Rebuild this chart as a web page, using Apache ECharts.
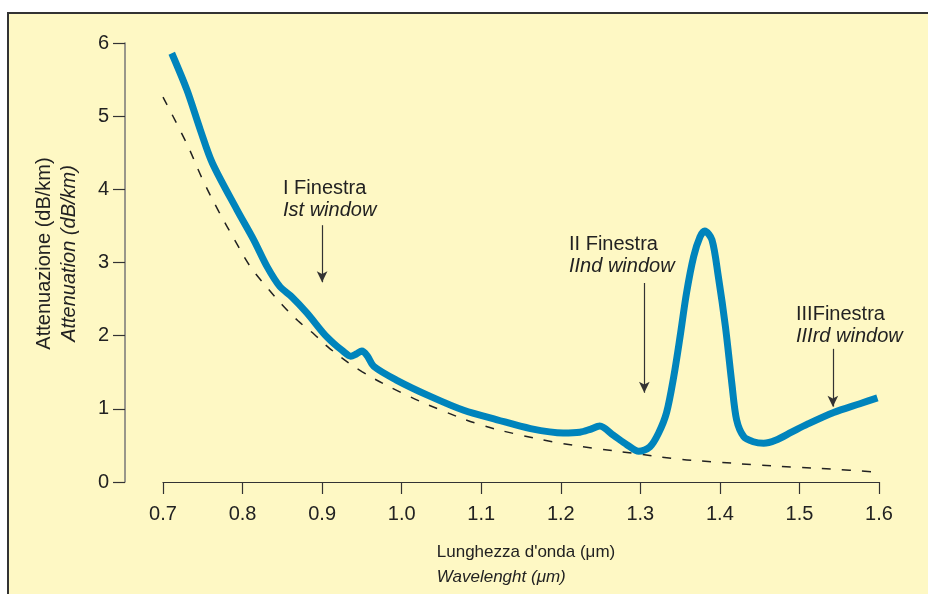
<!DOCTYPE html>
<html>
<head>
<meta charset="utf-8">
<script src="https://cdn.jsdelivr.net/npm/echarts@6/dist/echarts.min.js"></script>
<style>
  html, body { margin: 0; padding: 0; background: #fff; }
  #chart { width: 928px; height: 594px; }
</style>
</head>
<body>
<div id="chart"></div>
<script>
// measured attenuation curve (blue)
var attX = [0.711, 0.730, 0.747, 0.762, 0.793, 0.814, 0.831, 0.847, 0.862, 0.881, 0.902,
            0.914, 0.925, 0.936, 0.943, 0.950, 0.957, 0.965, 0.994, 1.036, 1.078, 1.120, 1.162,
            1.203, 1.224, 1.237, 1.249, 1.266, 1.283, 1.298, 1.312, 1.323, 1.333, 1.342, 1.350,
            1.358, 1.367, 1.375, 1.381, 1.390, 1.398, 1.407, 1.415, 1.421, 1.430, 1.442, 1.455,
            1.470, 1.490, 1.510, 1.543, 1.576, 1.598];
var attY = [5.86, 5.36, 4.81, 4.36, 3.72, 3.31, 2.94, 2.67, 2.53, 2.31, 2.03,
            1.90, 1.80, 1.72, 1.75, 1.79, 1.72, 1.58, 1.39, 1.17, 0.98, 0.85, 0.73,
            0.67, 0.68, 0.72, 0.765, 0.64, 0.51, 0.42, 0.48, 0.67, 0.95, 1.44, 1.99,
            2.58, 3.08, 3.35, 3.43, 3.31, 2.81, 2.12, 1.35, 0.85, 0.62, 0.55, 0.53,
            0.57, 0.68, 0.79, 0.95, 1.07, 1.15];

// theoretical limit (dashed)
var limX = [0.70, 0.73, 0.75, 0.77, 0.79, 0.81, 0.83, 0.85, 0.87, 0.89, 0.91, 0.95, 1.00,
            1.05, 1.10, 1.15, 1.20, 1.25, 1.30, 1.35, 1.40, 1.45, 1.50, 1.55, 1.59];
var limY = [5.26, 4.62, 4.13, 3.70, 3.31, 2.94, 2.67, 2.42, 2.20, 2.02, 1.82, 1.51, 1.22,
            0.98, 0.78, 0.64, 0.53, 0.45, 0.38, 0.31, 0.27, 0.23, 0.20, 0.17, 0.14];

// window arrows: x, top, tip
var arrowX = [0.9, 1.305, 1.542];
var arrowTop = [3.51, 2.72, 1.82];
var arrowTip = [2.73, 1.22, 1.03];
var windowIt = ['I Finestra', 'II Finestra', 'IIIFinestra'];
var windowEn = ['Ist window', 'IInd window', 'IIIrd window'];

var xTicks = { min: 0.7, max: 1.6, step: 0.1 };
var yTicks = { min: 0, max: 6, step: 1 };

var chart = echarts.init(document.getElementById('chart'));

function pairs(xs, ys) {
    return xs.map(function (x, i) { return [x, ys[i]]; });
}

var arrowLines = arrowX.map(function (x, i) {
    return [{ coord: [x, arrowTop[i]] }, { coord: [x, arrowTip[i]] }];
});

var labelPos = [[283, 178], [569, 234], [796, 304]];
var texts = labelPos.map(function (p, i) {
    return {
        type: 'text', left: p[0], top: p[1],
        style: {
            text: '{a|' + windowIt[i] + '}\n{b|' + windowEn[i] + '}',
            rich: {
                a: { fontSize: 20, fontFamily: 'Liberation Sans', fill: '#222', lineHeight: 22 },
                b: { fontSize: 20, fontFamily: 'Liberation Sans', fontStyle: 'italic', fill: '#222', lineHeight: 22 }
            }
        }
    };
});

var option = {
    backgroundColor: '#fff',
    animation: false,
    graphic: [{
        type: 'rect', z: -10, silent: true,
        shape: { x: 8, y: 13, width: 940, height: 600 },
        style: { fill: '#fef8c4', stroke: '#333', lineWidth: 2 }
    }].concat(texts),
    grid: { left: 163, right: 49, top: 43, bottom: 112 },
    xAxis: {
        type: 'value',
        min: xTicks.min, max: xTicks.max, interval: xTicks.step,
        axisLine: { show: true, lineStyle: { color: '#333', width: 1.2 } },
        axisTick: { show: true, length: 12, lineStyle: { color: '#333', width: 1.2 } },
        axisLabel: {
            margin: 22, fontSize: 20, color: '#222', fontFamily: 'Liberation Sans',
            formatter: function (v) { return v.toFixed(1); }
        },
        splitLine: { show: false },
        name: '{a|Lunghezza d\'onda (\u03bcm)}\n{b|Wavelenght (\u03bcm)}',
        nameLocation: 'middle',
        nameGap: 58,
        nameTextStyle: {
            padding: [0, 0, 0, 10],
            rich: {
                a: { fontSize: 17, fontFamily: 'Liberation Sans', color: '#222', align: 'left', lineHeight: 25 },
                b: { fontSize: 17, fontFamily: 'Liberation Sans', fontStyle: 'italic', color: '#222', align: 'left', lineHeight: 25 }
            }
        }
    },
    yAxis: {
        type: 'value',
        min: yTicks.min, max: yTicks.max, interval: yTicks.step,
        offset: 38,
        axisLine: { show: true, lineStyle: { color: '#777', width: 1.5 } },
        axisTick: { show: true, length: 12, lineStyle: { color: '#333', width: 1.2 } },
        axisLabel: { margin: 16, fontSize: 20, color: '#222', fontFamily: 'Liberation Sans' },
        splitLine: { show: false },
        name: '{a|Attenuazione (dB/km)}\n{b|Attenuation (dB/km)}',
        nameLocation: 'middle',
        nameRotate: 90,
        nameGap: 43,
        nameTextStyle: {
            padding: [0, 0, 0, 18],
            rich: {
                a: { fontSize: 20, fontFamily: 'Liberation Sans', color: '#222', lineHeight: 25 },
                b: { fontSize: 20, fontFamily: 'Liberation Sans', fontStyle: 'italic', color: '#222', lineHeight: 25 }
            }
        }
    },
    series: [{
        name: 'limit',
        type: 'line',
        data: pairs(limX, limY),
        smooth: 0.4,
        symbol: 'none',
        lineStyle: { color: '#222', width: 1.5, type: [9, 11] },
        z: 2
    }, {
        name: 'attenuation',
        type: 'line',
        data: pairs(attX, attY),
        smooth: 0.3,
        symbol: 'none',
        lineStyle: { color: '#0084bc', width: 7, cap: 'butt', join: 'round' },
        z: 3,
        markLine: {
            silent: true,
            symbol: ['none', 'arrow'],
            symbolSize: [8, 11],
            label: { show: false },
            lineStyle: { color: '#333', width: 1.2, type: 'solid' },
            data: arrowLines
        }
    }]
};

chart.setOption(option);
</script>
</body>
</html>
